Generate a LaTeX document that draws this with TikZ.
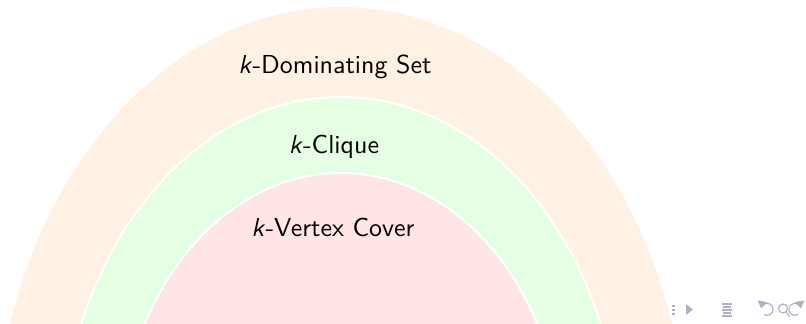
\documentclass[tikz,border=0pt]{standalone}
\usepackage{tikz}
\usetikzlibrary{arrows.meta}
\definecolor{navgray}{RGB}{176,176,204}
\tikzset{
  band/.style={draw=white, thick},
  setlabel/.style={anchor=base, text=black,
    font=\sffamily\fontsize{10.95}{13}\selectfont},
  navsym/.style={draw=navgray, line width=0.5pt}
}

\begin{document}
\begin{tikzpicture}[x=0.422pt, y=0.422pt]
  \useasboundingbox (0,0) rectangle (806,323);
  \clip (0,0) rectangle (806,323);

  % nested classes, one common centre below the frame
  \coordinate (c) at (341,-137);
  \fill[orange!10] (c) ellipse [x radius=347, y radius=453];
  \filldraw[band, fill=green!10] (c) ellipse [x radius=280, y radius=363];
  \filldraw[band, fill=red!10] (c) ellipse [x radius=223, y radius=287];

  \node[setlabel] (domset) at (335,250) {\textit{k}-Dominating Set};
  \node[setlabel] (clique) at (334,170) {\textit{k}-Clique};
  \node[setlabel] (vcover) at (333,87) {\textit{k}-Vertex Cover};

  % navigation symbols
  \foreach \y in {8,12,16}
    \fill[navgray] (672,\y) rectangle +(2.5,2.5);
  \fill[navgray] (686,8) -- (686,19) -- (693,13.5) -- cycle;
  \foreach \y/\w in {7/5,10/4,13/5,16/4,19/5}
    \draw[navsym] (727-\w,\y) -- (727+\w,\y);
  \draw[navsym, -{Triangle[length=3pt,width=4pt]}] (764,8.5) arc (-120:170:6);
  \draw[navsym] (783,14.5) circle (4.5);
  \draw[navsym] (786,11) -- (790,6.5);
  \draw[navsym, -{Triangle[length=3pt,width=4pt]}] (798,8.5) arc (-60:-350:6);
\end{tikzpicture}
\end{document}
